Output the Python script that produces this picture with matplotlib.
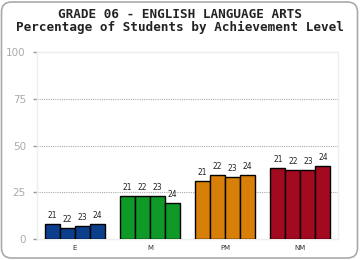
import matplotlib
matplotlib.use("Agg")
import matplotlib.pyplot as plt
import matplotlib.patches as mpatches
from matplotlib.transforms import IdentityTransform
import numpy as np

# ── Data ──────────────────────────────────────────────────────────────────────
levels = ["E", "M", "PM", "NM"]
years = ["21", "22", "23", "24"]
pct_E  = [8, 6, 7, 8]
pct_M  = [23, 23, 23, 19]
pct_PM = [31, 34, 33, 34]
pct_NM = [38, 37, 37, 39]
yticks = [0, 25, 50, 75, 100]

series = [pct_E, pct_M, pct_PM, pct_NM]
colors = ["#0c3f8b", "#0f9a27", "#d77f09", "#a3091f"]

W, H = 360, 260
fig = plt.figure(figsize=(W / 100, H / 100), dpi=100, facecolor="white")
ax = fig.add_axes([37 / W, (H - 239) / H, (338 - 37) / W, (239 - 52) / H])

# ── Bars ──────────────────────────────────────────────────────────────────────
bw = 0.2
for i, vals in enumerate(series):
    for j, v in enumerate(vals):
        xpos = i + (j - 1.5) * bw
        ax.bar(xpos, v, width=bw, color=colors[i], edgecolor="black", linewidth=1.0, zorder=3)
        ax.annotate(years[j], (xpos, v), xytext=(0, 3), textcoords="offset points",
                    ha="center", va="bottom", fontsize=5.5, color="#222222")

# ── Axes styling ──────────────────────────────────────────────────────────────
ax.set_xlim(-0.5, 3.5)
ax.set_ylim(0, 100)
ax.set_xticks(range(len(levels)))
ax.set_xticklabels(levels, fontsize=5, color="#333333")
ax.tick_params(axis="x", length=0, pad=4)
ax.set_yticks(yticks)
ax.set_yticklabels([str(t) for t in yticks], fontsize=7.5, color="#aaaaaa")
ax.tick_params(axis="y", length=3, width=1, color="#999999", pad=5)
for s in ax.spines.values():
    s.set_color("#eeeeee")
    s.set_linewidth(1)
for t in yticks[1:-1]:
    ax.axhline(t, color="#aaaaaa", linewidth=0.8, linestyle=(0, (1, 1)), zorder=1)

# ── Title ─────────────────────────────────────────────────────────────────────
fig.text(0.5, 1 - 14 / H, "GRADE 06 - ENGLISH LANGUAGE ARTS", ha="center", va="center",
         family="DejaVu Sans Mono", fontweight="bold", fontsize=9.1, color="#222222")
fig.text(0.5, 1 - 27 / H, "Percentage of Students by Achievement Level", ha="center", va="center",
         family="DejaVu Sans Mono", fontweight="bold", fontsize=9.1, color="#222222")

# ── Rounded border ────────────────────────────────────────────────────────────
border = mpatches.FancyBboxPatch((1.5, 2), 356, 256, boxstyle="round,pad=0,rounding_size=10",
                                 transform=IdentityTransform(), facecolor="none",
                                 edgecolor="#aaaaaa", linewidth=1.2)
fig.patches.append(border)

fig.savefig("out.png", dpi=100, facecolor="white")
